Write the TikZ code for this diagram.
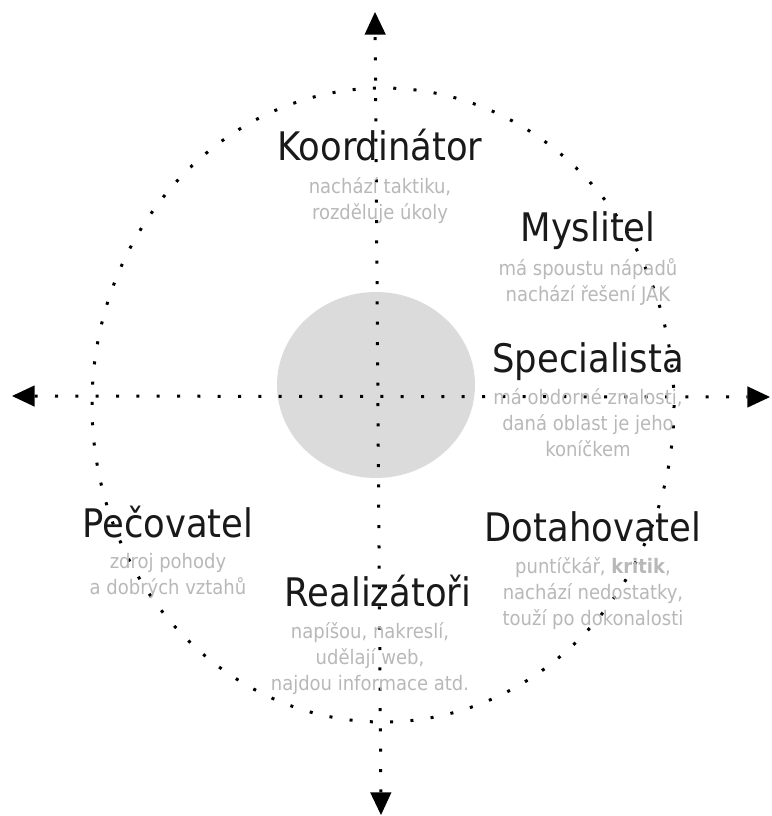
\documentclass[tikz,border=0pt]{standalone}
\usepackage{fontspec}
\setmainfont{DejaVu Sans Condensed}
\usetikzlibrary{positioning,arrows.meta}
\definecolor{pale}{gray}{0.72}
\definecolor{blob}{gray}{0.86}
\definecolor{ink}{gray}{0.1}

\begin{document}
\begin{tikzpicture}[
  x=0.75pt, y=-0.75pt,
  node distance=6pt,
  role/.style={text=ink, font=\fontsize{29.5}{32}\selectfont, inner sep=0pt, text height=22pt, text depth=6pt},
  note/.style={text=pale, font=\fontsize{15}{19.5}\selectfont, align=center, inner sep=0pt,
    execute at begin node={\rule{0pt}{14pt}}},
  dots/.style={line width=2.25pt, dash pattern=on 2.25pt off 13pt},
  axis/.style={dots, {Triangle[length=17pt, width=16pt, line width=0pt]}-{Triangle[length=17pt, width=16pt, line width=0pt]}}
]
\useasboundingbox (0,0) rectangle (771,816);

% background shapes
\fill[blob] (376,385) ellipse [x radius=99, y radius=93];
\draw[dots] (383,405) ellipse [x radius=291, y radius=317];

% axes
\coordinate (west) at (12,396);
\coordinate (east) at (770,397);
\coordinate (north) at (375,12);
\coordinate (south) at (381,815);
\draw[axis] (west) -- (east);
\draw[axis] (south) -- (north);

% roles
\node[role, anchor=base] (koord) at (380,161) {Koordinátor};
\node[note, below=of koord] (koordnote) {nachází taktiku,\\rozděluje úkoly};

\node[role, anchor=base] (myslitel) at (588,242) {Myslitel};
\node[note, below=of myslitel] (myslitelnote) {má spoustu nápadů\\nachází řešení JAK};

\node[role, anchor=base] (special) at (588,372) {Specialista};
\node[note, below=of special] (specialnote) {má obdorné znalosti,\\daná oblast je jeho\\koníčkem};

\node[role, anchor=base] (pecov) at (168,537) {Pečovatel};
\node[note, below=of pecov] (pecovnote) {zdroj pohody\\a dobrých vztahů};

\node[role, anchor=base] (realiz) at (378,606) {Realizátoři};
\node[note, below=of realiz, xshift=-6] (realiznote) {napíšou, nakreslí,\\udělají web,\\najdou informace atd.};

\node[role, anchor=base] (dotah) at (593,541) {Dotahovatel};
\node[note, below=of dotah] (dotahnote) {puntíčkář, \textbf{kritik},\\nachází nedostatky,\\touží po dokonalosti};
\end{tikzpicture}
\end{document}
